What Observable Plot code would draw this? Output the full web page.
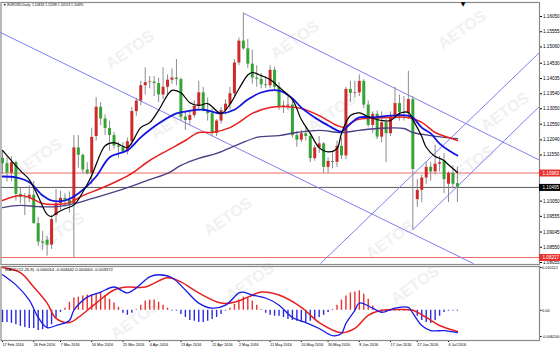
<!DOCTYPE html>
<html><head><meta charset="utf-8">
<script src="https://cdn.jsdelivr.net/npm/d3@7"></script>
<script src="https://cdn.jsdelivr.net/npm/@observablehq/plot@0.6"></script>
<style>
body{margin:0;background:#fff}
#wrap{position:relative;width:560px;height:351px;overflow:hidden;background:#fff;font-family:"Liberation Sans",Arial,sans-serif}
#main,#macd{position:absolute;left:0}
#main{top:0}#macd{top:265px}
.wm{position:absolute;font:bold 16px "Liberation Sans",Arial,sans-serif;color:#f1f1f1;transform:translate(-50%,-50%) rotate(-35deg);white-space:nowrap}
.mk{position:absolute;font:6px "DejaVu Sans",sans-serif;color:#000;transform:translate(-50%,-50%)}
</style></head>
<body><div id="wrap"><div id="wms"></div><div id="main"></div><div id="macd"></div><div class="mk" style="left:463px;top:3px">▼</div></div>
<script>
// ---- data: daily EURUSD candles, 17 Feb 2016 .. 8 Jul 2016 (bar index 0..102)
const open = [1.1144,1.1127,1.1096,1.1130,1.1027,1.1017,1.1015,1.1024,1.0932,1.0872,
1.0878,1.0862,1.0958,1.0997,1.1014,1.1008,1.0995,1.1178,1.1154,1.1106,
1.1094,1.1215,1.1310,1.1272,1.1241,1.1218,1.1184,1.1180,1.1165,1.1198,
1.1296,1.1330,1.1380,1.1390,1.1392,1.1387,1.1350,1.1375,1.1398,1.1405,
1.1400,1.1278,1.1267,1.1283,1.1313,1.1357,1.1299,1.1289,1.1225,1.1265,
1.1299,1.1320,1.1354,1.1454,1.1525,1.1500,1.1450,1.1405,1.1401,1.1383,
1.1380,1.1430,1.1375,1.1310,1.1314,1.1317,1.1218,1.1203,1.1224,1.1215,
1.1143,1.1178,1.1191,1.1115,1.1134,1.1131,1.1183,1.1152,1.1368,1.1355,
1.1357,1.1394,1.1317,1.1251,1.1287,1.1213,1.1260,1.1224,1.1278,1.1322,
1.1293,1.1290,1.1335,1.1010,1.1040,1.1080,1.1115,1.1100,1.1125,1.1135,
1.1060,1.1095,1.1062];
const high = [1.1168,1.1146,1.1150,1.1135,1.1046,1.1029,1.1055,1.1069,1.0952,1.0907,
1.0890,1.0958,1.1043,1.1037,1.1029,1.1035,1.1218,1.1218,1.1157,1.1130,
1.1242,1.1342,1.1325,1.1285,1.1265,1.1228,1.1195,1.1195,1.1210,1.1310,
1.1340,1.1395,1.1438,1.1410,1.1410,1.1405,1.1438,1.1415,1.1435,1.1465,
1.1405,1.1295,1.1300,1.1330,1.1395,1.1375,1.1340,1.1305,1.1270,1.1310,
1.1335,1.1375,1.1465,1.1535,1.1616,1.1530,1.1495,1.1445,1.1420,1.1410,
1.1445,1.1440,1.1390,1.1330,1.1350,1.1340,1.1232,1.1235,1.1250,1.1225,
1.1185,1.1215,1.1195,1.1145,1.1165,1.1200,1.1210,1.1375,1.1395,1.1395,
1.1415,1.1400,1.1330,1.1295,1.1298,1.1295,1.1270,1.1295,1.1375,1.1350,
1.1345,1.1427,1.1345,1.1075,1.1090,1.1130,1.1130,1.1187,1.1150,1.1160,
1.1100,1.1120,1.1115];
const low = [1.1093,1.1067,1.1068,1.1005,1.0996,1.0958,1.1001,1.0930,1.0858,1.0845,
1.0826,1.0848,1.0934,1.0975,1.0985,1.0966,1.0822,1.1112,1.1094,1.1090,
1.1058,1.1200,1.1250,1.1219,1.1167,1.1174,1.1144,1.1160,1.1155,1.1180,
1.1280,1.1315,1.1350,1.1370,1.1345,1.1325,1.1335,1.1350,1.1385,1.1380,
1.1265,1.1235,1.1250,1.1275,1.1300,1.1295,1.1265,1.1215,1.1215,1.1255,
1.1285,1.1300,1.1345,1.1445,1.1495,1.1435,1.1385,1.1375,1.1370,1.1370,
1.1370,1.1365,1.1300,1.1290,1.1300,1.1210,1.1180,1.1195,1.1200,1.1130,
1.1135,1.1160,1.1095,1.1095,1.1110,1.1115,1.1140,1.1140,1.1325,1.1340,
1.1345,1.1305,1.1245,1.1225,1.1205,1.1195,1.1130,1.1215,1.1270,1.1265,
1.1265,1.1270,1.0912,1.0985,1.1000,1.1060,1.1070,1.1090,1.1100,1.1030,
1.1000,1.1045,1.1000];
const close = [1.1127,1.1096,1.1130,1.1027,1.1017,1.1015,1.1024,1.0932,1.0872,1.0868,
1.0862,1.0945,1.0997,1.1014,1.1008,1.0995,1.1178,1.1154,1.1106,1.1094,
1.1212,1.1310,1.1272,1.1241,1.1218,1.1184,1.1180,1.1165,1.1198,1.1296,
1.1330,1.1380,1.1390,1.1392,1.1387,1.1350,1.1375,1.1398,1.1405,1.1400,
1.1278,1.1267,1.1283,1.1313,1.1357,1.1299,1.1289,1.1225,1.1265,1.1299,
1.1320,1.1354,1.1454,1.1525,1.1500,1.1450,1.1405,1.1401,1.1383,1.1380,
1.1430,1.1375,1.1310,1.1314,1.1317,1.1218,1.1203,1.1224,1.1215,1.1143,
1.1178,1.1191,1.1115,1.1134,1.1131,1.1183,1.1152,1.1368,1.1355,1.1357,
1.1394,1.1317,1.1251,1.1287,1.1213,1.1260,1.1224,1.1278,1.1322,1.1293,
1.1290,1.1335,1.1108,1.1040,1.1080,1.1115,1.1100,1.1125,1.1130,1.1075,
1.1095,1.1060,1.1050];

// moving averages: [bar index, price]
const maBlack = [[0,1.1170],[4,1.1104],[6,1.1075],[8,1.1020],[10,1.0962],[11,1.0955],[12,1.0965],[14,1.0980],[16,1.0992],[17,1.1010],[19,1.1060],[20,1.1088],[22,1.1160],[23,1.1185],[25,1.1195],[28,1.1179],[29,1.1195],[31,1.1244],[33,1.1260],[35,1.1300],[38,1.1365],[40,1.1357],[42,1.1325],[44,1.1316],[46,1.1322],[49,1.1290],[51,1.1320],[53,1.1370],[55,1.1415],[56,1.1423],[58,1.1413],[60,1.1400],[62,1.1375],[65,1.1335],[67,1.1270],[69,1.1225],[71,1.1179],[73,1.1165],[75,1.1176],[76,1.1225],[78,1.1283],[80,1.1292],[82,1.1279],[85,1.1267],[87,1.1267],[89,1.1290],[91,1.1293],[92,1.1270],[94,1.1215],[95,1.1180],[97,1.1150],[98,1.1144],[99,1.1137],[100,1.1123],[102,1.1098]];
const maBlue = [[0,1.1085],[3,1.1082],[6,1.1066],[9,1.1023],[11,1.1007],[14,1.1007],[17,1.1030],[21,1.1085],[24,1.1147],[28,1.1170],[31,1.1212],[35,1.1257],[39,1.1290],[41,1.1296],[45,1.1302],[49,1.1290],[52,1.1302],[55,1.1335],[58,1.1358],[62,1.1364],[65,1.1339],[67,1.1309],[70,1.1277],[73,1.1251],[75,1.1235],[76,1.1231],[78,1.1257],[80,1.1277],[83,1.1277],[87,1.1283],[91,1.1283],[92,1.1277],[94,1.1244],[96,1.1225],[98,1.1192],[100,1.1170],[102,1.1153]];
const maRed = [[0,1.1007],[4,1.1023],[6,1.1017],[9,1.0997],[12,1.0994],[15,1.1000],[18,1.1023],[22,1.1046],[26,1.1072],[29,1.1095],[33,1.1137],[37,1.1170],[41,1.1202],[44,1.1228],[47,1.1228],[51,1.1244],[53,1.1261],[56,1.1290],[60,1.1309],[64,1.1312],[67,1.1306],[71,1.1283],[75,1.1251],[77,1.1245],[79,1.1267],[82,1.1274],[87,1.1277],[91,1.1277],[94,1.1261],[97,1.1228],[100,1.1212],[102,1.1202]];
const maPurple = [[0,1.0984],[4,1.0991],[8,1.0987],[12,1.0987],[16,1.0997],[20,1.1013],[24,1.1030],[28,1.1049],[33,1.1075],[37,1.1095],[40,1.1121],[44,1.1144],[48,1.1160],[53,1.1190],[57,1.1212],[62,1.1218],[66,1.1228],[71,1.1235],[76,1.1228],[80,1.1235],[84,1.1241],[90,1.1241],[92,1.1228],[96,1.1218],[99,1.1212],[102,1.1208]];

// hand-drawn trend lines: [bar index 1, price 1, bar index 2, price 2]
const trendLines = [[-0.45,1.1553,105.6,1.0802],[54,1.1616,120.4,1.1138],[71.3,1.0802,120.4,1.1488],[92,1.0912,120.4,1.1313]];

// horizontal levels
const levelPrices = [1.10963, 1.10495, 1.08217];
const levelColors = ["#f06a6a", "#5a5a5a", "#f06a6a"];
const levelBoxColors = ["#e8322f", "#000000", "#e8322f"];

// price axis tick labels
const priceTicks = [1.16050,1.15555,1.15060,1.14530,1.14035,1.13540,1.13050,1.12550,1.12040,1.11550,1.10050,1.09555,1.09045,1.08550,1.08055];

// MACD panel
const macdHist = [-0.0029,-0.0029,-0.0031,-0.0034,-0.0038,-0.0041,-0.0043,-0.0043,-0.0048,-0.0046,
-0.0041,-0.0034,-0.0019,-0.0005,0.0005,0.0019,0.0029,0.0031,0.0034,0.0036,
0.0036,0.0038,0.0041,0.0034,0.0026,0.0017,0.0007,-0.0007,-0.0012,-0.0007,
0.0002,0.0012,0.0022,0.0024,0.0024,0.0019,0.0012,0.0005,-0.0002,-0.0002,
-0.0010,-0.0017,-0.0024,-0.0026,-0.0029,-0.0029,-0.0026,-0.0022,-0.0017,-0.0010,
-0.0002,0.0005,0.0014,0.0024,0.0031,0.0029,0.0022,0.0012,0.0002,-0.0007,
-0.0012,-0.0014,-0.0014,-0.0017,-0.0022,-0.0024,-0.0026,-0.0029,-0.0029,-0.0026,
-0.0022,-0.0017,-0.0012,-0.0005,0.0002,0.0012,0.0024,0.0034,0.0041,0.0043,
0.0046,0.0038,0.0026,0.0010,-0.0002,-0.0005,-0.0005,-0.0002,-0.0002,-0.0002,
-0.0002,-0.0002,-0.0002,-0.0014,-0.0024,-0.0029,-0.0031,-0.0024,-0.0014,-0.0005,
-0.0002,-0.0002,-0.0002];
const macdMain = [[0,0.0084],[3,0.0060],[6,0.0024],[8,-0.0017],[10,-0.0041],[12,-0.0036],[15,-0.0024],[16,0.0000],[19,0.0031],[22,0.0043],[25,0.0055],[28,0.0041],[30,0.0053],[33,0.0079],[35,0.0084],[38,0.0077],[41,0.0048],[44,0.0017],[47,0.0005],[50,0.0012],[53,0.0041],[54,0.0043],[56,0.0036],[59,0.0029],[62,0.0012],[65,-0.0017],[68,-0.0029],[71,-0.0043],[74,-0.0060],[76,-0.0055],[77,-0.0031],[79,0.0000],[80,0.0017],[83,0.0005],[85,-0.0005],[88,0.0005],[91,0.0007],[92,-0.0007],[94,-0.0036],[96,-0.0048],[99,-0.0048],[102,-0.0053]];
const macdSignal = [[0,0.0101],[4,0.0089],[7,0.0055],[10,0.0017],[12,-0.0019],[15,-0.0029],[17,-0.0017],[21,0.0017],[25,0.0048],[28,0.0055],[32,0.0055],[37,0.0077],[40,0.0067],[44,0.0041],[49,0.0017],[52,0.0019],[55,0.0031],[58,0.0043],[62,0.0036],[67,0.0007],[71,-0.0029],[76,-0.0053],[79,-0.0043],[82,-0.0012],[85,0.0000],[89,0.0002],[92,0.0000],[95,-0.0017],[98,-0.0036],[102,-0.0050]];
const macdTicks = [0.010112, 0, -0.0062];
const macdTickLabels = ["0.010112", "0.00", "-0.006200"];

// date axis
const dateIdx = [0,7,13,20,27,33,40,47,53,60,67,73,80,87,93,100];
const dateLabels = ["17 Feb 2016","26 Feb 2016","7 Mar 2016","16 Mar 2016","25 Mar 2016","4 Apr 2016","13 Apr 2016","22 Apr 2016","2 May 2016","11 May 2016","20 May 2016","30 May 2016","8 Jun 2016","17 Jun 2016","27 Jun 2016","6 Jul 2016"];

const titleText = "▼ EURUSD,Daily  1.10818 1.11189 1.10513 1.10495";
const macdTitle = "MACD(12,26,9) -0.000014 -0.004642 0.000000 -0.003372";

// watermark word
const wmText = "AETOS";
const wmSpots = [[130,50],[295,40],[462,30],[332,113],[505,112],[38,158],[228,217],[60,232],[390,240],[250,282],[135,320],[415,285],[470,165],[175,120]];

// ---- build
const wms = document.getElementById("wms");
wmSpots.forEach(([x,y]) => { const s = document.createElement("div"); s.className = "wm"; s.style.left = x+"px"; s.style.top = y+"px"; s.textContent = wmText; wms.appendChild(s); });

const candles = open.map((o,i) => ({i, o, h: high[i], l: low[i], c: close[i]}));
const font = "'Liberation Sans', Arial, sans-serif";
const xDom = [-0.45, 120.4];

const main = Plot.plot({
  width: 560, height: 265,
  marginLeft: 0.5, marginRight: 21, marginTop: 2, marginBottom: 1,
  x: {domain: xDom, range: [0, 539], axis: null},
  y: {domain: [1.08055, 1.1605], range: [262, 16], axis: "right", ticks: priceTicks, tickFormat: d => d.toFixed(5), tickSize: 2, tickPadding: 1.5, label: null},
  color: {type: "identity"},
  style: {background: "transparent", fontFamily: font, fontSize: "4.6px", color: "#000", overflow: "visible"},
  marks: [
    Plot.ruleY(levelPrices, {y: d => d, stroke: (d,i) => levelColors[i], strokeWidth: 1}),
    Plot.link(trendLines, {x1: d => d[0], y1: d => d[1], x2: d => d[2], y2: d => d[3], stroke: "#7f7ff0", strokeWidth: 1}),
    Plot.ruleX(candles, {x: "i", y1: "l", y2: "h", stroke: "#8c8c8c", strokeWidth: 1}),
    Plot.ruleX(candles, {x: "i", y1: "o", y2: "c", stroke: d => d.c >= d.o ? "#cf2a2a" : "#36a336", strokeWidth: 3}),
    Plot.line(maPurple, {x: d => d[0], y: d => d[1], stroke: "#4b3f86", strokeWidth: 1.4, curve: "catmull-rom"}),
    Plot.line(maRed, {x: d => d[0], y: d => d[1], stroke: "#e82020", strokeWidth: 1.5, curve: "catmull-rom"}),
    Plot.line(maBlue, {x: d => d[0], y: d => d[1], stroke: "#1414e0", strokeWidth: 1.8, curve: "catmull-rom"}),
    Plot.line(maBlack, {x: d => d[0], y: d => d[1], stroke: "#000", strokeWidth: 1.2, curve: "catmull-rom"}),
    Plot.frame({stroke: "#8a8a8a", strokeWidth: 1.2}),
    Plot.ruleY(levelPrices, {y: d => d, x1: 120.4, x2: 125.4, stroke: (d,i) => levelBoxColors[i], strokeWidth: 7}),
    Plot.text(levelPrices, {y: d => d, x: 120.4, text: d => d.toFixed(5), textAnchor: "start", dx: 3, fill: "#fff", fontSize: 4.6}),
    Plot.text([titleText], {frameAnchor: "top-left", text: d => d, dx: 2, dy: 1.5, fontSize: 3.4, fill: "#000"})
  ]
});
document.getElementById("main").appendChild(main);

const hist = macdHist.map((v,i) => ({i, v}));
const macd = Plot.plot({
  width: 560, height: 86,
  marginLeft: 0.5, marginRight: 21, marginTop: 1, marginBottom: 11,
  x: {domain: xDom, range: [0, 539], axis: "bottom", ticks: dateIdx, tickFormat: () => "", tickSize: 2, label: null},
  y: {domain: [-0.0062, 0.010112], range: [71, 2], axis: "right", ticks: macdTicks, tickFormat: d => macdTickLabels[macdTicks.indexOf(d)], tickSize: 1.5, tickPadding: 1, label: null},
  color: {type: "identity"},
  style: {background: "transparent", fontFamily: font, fontSize: "3.9px", color: "#000", overflow: "visible"},
  marks: [
    Plot.ruleX(hist, {x: "i", y1: 0, y2: "v", stroke: d => d.v > 0 ? "#e83030" : "#2a2ae0", strokeWidth: 1.4}),
    Plot.line(macdSignal, {x: d => d[0], y: d => d[1], stroke: "#e82020", strokeWidth: 1.5, curve: "catmull-rom"}),
    Plot.line(macdMain, {x: d => d[0], y: d => d[1], stroke: "#1a1ae6", strokeWidth: 1.3, curve: "catmull-rom"}),
    Plot.frame({stroke: "#8a8a8a", strokeWidth: 1.2}),
    Plot.text(dateIdx, {x: d => d, frameAnchor: "bottom", text: (d,i) => dateLabels[i], textAnchor: "start", dy: 5, fontSize: 3.8, fill: "#000"}),
    Plot.text([macdTitle], {frameAnchor: "top-left", text: d => d, dx: 4, dy: 2, fontSize: 4.2, fill: "#000"})
  ]
});
document.getElementById("macd").appendChild(macd);
</script></body></html>
